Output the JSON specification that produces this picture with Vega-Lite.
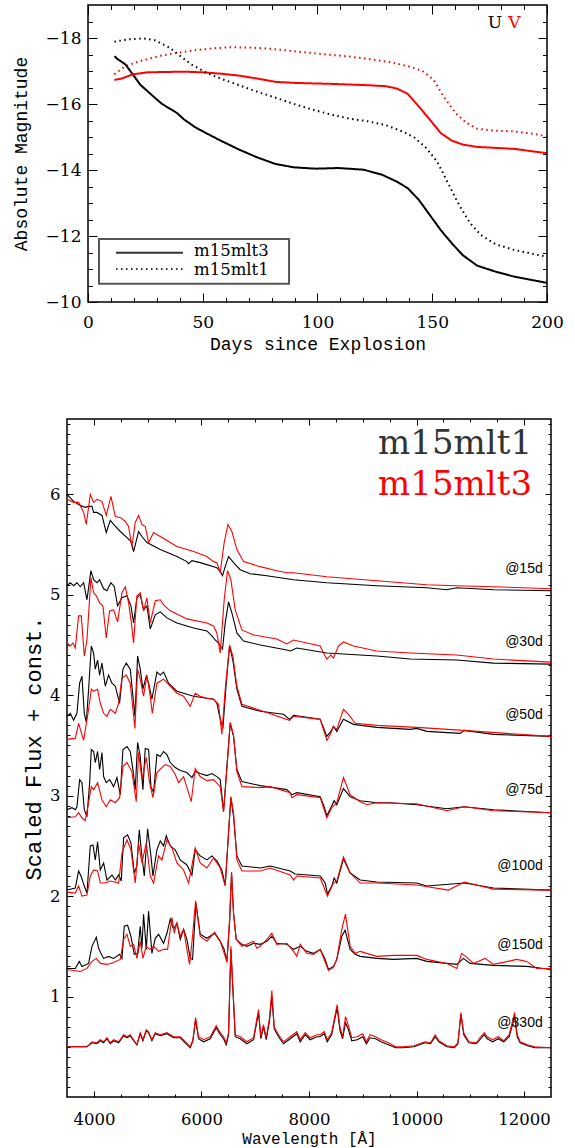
{
"$schema":"https://vega.github.io/schema/vega-lite/v6.json",
"autosize":{"type":"pad"},
"padding":{"left":12,"top":4,"right":0,"bottom":0},
"background":"white",
"spacing":64,
"config":{"view":{"stroke":null},"font":"DejaVu Serif","axis":{"domain":false,"grid":false,"labelFlush":false,"labelOverlap":false,"tickColor":"black","tickWidth":1,"labelColor":"black","titleColor":"black","labelFont":"DejaVu Serif","titleFont":"Liberation Mono","titleFontWeight":"normal"}},
"datasets":{
"lc":[
{"band":"U","model":"m15mlt3","day":11.5,"mag":-17.45},{"band":"U","model":"m15mlt3","day":13.1,"mag":-17.35},{"band":"U","model":"m15mlt3","day":16.3,"mag":-17.2},{"band":"U","model":"m15mlt3","day":19.5,"mag":-16.9},{"band":"U","model":"m15mlt3","day":22.7,"mag":-16.59},{"band":"U","model":"m15mlt3","day":25.9,"mag":-16.39},{"band":"U","model":"m15mlt3","day":29.1,"mag":-16.19},{"band":"U","model":"m15mlt3","day":32.3,"mag":-16.0},{"band":"U","model":"m15mlt3","day":38.7,"mag":-15.73},{"band":"U","model":"m15mlt3","day":41.9,"mag":-15.53},{"band":"U","model":"m15mlt3","day":46.6,"mag":-15.3},{"band":"U","model":"m15mlt3","day":51.4,"mag":-15.12},{"band":"U","model":"m15mlt3","day":57.8,"mag":-14.89},{"band":"U","model":"m15mlt3","day":65.8,"mag":-14.62},{"band":"U","model":"m15mlt3","day":73.8,"mag":-14.38},{"band":"U","model":"m15mlt3","day":81.8,"mag":-14.18},{"band":"U","model":"m15mlt3","day":89.8,"mag":-14.08},{"band":"U","model":"m15mlt3","day":99.4,"mag":-14.04},{"band":"U","model":"m15mlt3","day":109,"mag":-14.06},{"band":"U","model":"m15mlt3","day":120,"mag":-14.01},{"band":"U","model":"m15mlt3","day":128,"mag":-13.86},{"band":"U","model":"m15mlt3","day":134.5,"mag":-13.65},{"band":"U","model":"m15mlt3","day":139.3,"mag":-13.45},{"band":"U","model":"m15mlt3","day":144.1,"mag":-13.1},{"band":"U","model":"m15mlt3","day":148.9,"mag":-12.64},{"band":"U","model":"m15mlt3","day":153.7,"mag":-12.18},{"band":"U","model":"m15mlt3","day":158.5,"mag":-11.78},{"band":"U","model":"m15mlt3","day":163.3,"mag":-11.42},{"band":"U","model":"m15mlt3","day":169.6,"mag":-11.1},{"band":"U","model":"m15mlt3","day":177.6,"mag":-10.92},{"band":"U","model":"m15mlt3","day":185.6,"mag":-10.77},{"band":"U","model":"m15mlt3","day":200,"mag":-10.58},
{"band":"V","model":"m15mlt3","day":11.5,"mag":-16.73},{"band":"V","model":"m15mlt3","day":14.7,"mag":-16.77},{"band":"V","model":"m15mlt3","day":19.5,"mag":-16.9},{"band":"V","model":"m15mlt3","day":25.9,"mag":-16.96},{"band":"V","model":"m15mlt3","day":33.9,"mag":-16.97},{"band":"V","model":"m15mlt3","day":41.9,"mag":-16.98},{"band":"V","model":"m15mlt3","day":49.8,"mag":-16.96},{"band":"V","model":"m15mlt3","day":57.8,"mag":-16.92},{"band":"V","model":"m15mlt3","day":65.8,"mag":-16.86},{"band":"V","model":"m15mlt3","day":73.8,"mag":-16.77},{"band":"V","model":"m15mlt3","day":81.8,"mag":-16.67},{"band":"V","model":"m15mlt3","day":89.8,"mag":-16.64},{"band":"V","model":"m15mlt3","day":105.8,"mag":-16.61},{"band":"V","model":"m15mlt3","day":121.7,"mag":-16.57},{"band":"V","model":"m15mlt3","day":129.7,"mag":-16.54},{"band":"V","model":"m15mlt3","day":134.5,"mag":-16.47},{"band":"V","model":"m15mlt3","day":139.3,"mag":-16.31},{"band":"V","model":"m15mlt3","day":144.1,"mag":-15.93},{"band":"V","model":"m15mlt3","day":148.9,"mag":-15.53},{"band":"V","model":"m15mlt3","day":153.7,"mag":-15.12},{"band":"V","model":"m15mlt3","day":158.5,"mag":-14.89},{"band":"V","model":"m15mlt3","day":163.3,"mag":-14.77},{"band":"V","model":"m15mlt3","day":169.6,"mag":-14.7},{"band":"V","model":"m15mlt3","day":185.6,"mag":-14.64},{"band":"V","model":"m15mlt3","day":200,"mag":-14.51},
{"band":"U","model":"m15mlt1","day":11.5,"mag":-17.89},{"band":"U","model":"m15mlt1","day":17.9,"mag":-17.96},{"band":"U","model":"m15mlt1","day":24.3,"mag":-17.99},{"band":"U","model":"m15mlt1","day":29.1,"mag":-17.93},{"band":"U","model":"m15mlt1","day":35.5,"mag":-17.71},{"band":"U","model":"m15mlt1","day":40.3,"mag":-17.45},{"band":"U","model":"m15mlt1","day":45,"mag":-17.2},{"band":"U","model":"m15mlt1","day":51.4,"mag":-16.95},{"band":"U","model":"m15mlt1","day":57.8,"mag":-16.77},{"band":"U","model":"m15mlt1","day":65.8,"mag":-16.57},{"band":"U","model":"m15mlt1","day":73.8,"mag":-16.37},{"band":"U","model":"m15mlt1","day":81.8,"mag":-16.19},{"band":"U","model":"m15mlt1","day":89.8,"mag":-16.0},{"band":"U","model":"m15mlt1","day":97.8,"mag":-15.83},{"band":"U","model":"m15mlt1","day":105.8,"mag":-15.68},{"band":"U","model":"m15mlt1","day":113.7,"mag":-15.56},{"band":"U","model":"m15mlt1","day":121.7,"mag":-15.48},{"band":"U","model":"m15mlt1","day":129.7,"mag":-15.36},{"band":"U","model":"m15mlt1","day":137.7,"mag":-15.15},{"band":"U","model":"m15mlt1","day":142.5,"mag":-14.97},{"band":"U","model":"m15mlt1","day":147.3,"mag":-14.67},{"band":"U","model":"m15mlt1","day":152.1,"mag":-14.26},{"band":"U","model":"m15mlt1","day":156.9,"mag":-13.6},{"band":"U","model":"m15mlt1","day":161.7,"mag":-12.94},{"band":"U","model":"m15mlt1","day":166.5,"mag":-12.39},{"band":"U","model":"m15mlt1","day":171.2,"mag":-12.03},{"band":"U","model":"m15mlt1","day":177.6,"mag":-11.75},{"band":"U","model":"m15mlt1","day":185.6,"mag":-11.58},{"band":"U","model":"m15mlt1","day":200,"mag":-11.37},
{"band":"V","model":"m15mlt1","day":11.5,"mag":-16.9},{"band":"V","model":"m15mlt1","day":16.3,"mag":-17.15},{"band":"V","model":"m15mlt1","day":22.7,"mag":-17.3},{"band":"V","model":"m15mlt1","day":30.7,"mag":-17.45},{"band":"V","model":"m15mlt1","day":38.7,"mag":-17.55},{"band":"V","model":"m15mlt1","day":46.6,"mag":-17.63},{"band":"V","model":"m15mlt1","day":54.6,"mag":-17.69},{"band":"V","model":"m15mlt1","day":62.6,"mag":-17.72},{"band":"V","model":"m15mlt1","day":70.6,"mag":-17.71},{"band":"V","model":"m15mlt1","day":78.6,"mag":-17.68},{"band":"V","model":"m15mlt1","day":89.8,"mag":-17.6},{"band":"V","model":"m15mlt1","day":100.9,"mag":-17.52},{"band":"V","model":"m15mlt1","day":112.1,"mag":-17.45},{"band":"V","model":"m15mlt1","day":121.7,"mag":-17.37},{"band":"V","model":"m15mlt1","day":131.3,"mag":-17.27},{"band":"V","model":"m15mlt1","day":139.3,"mag":-17.15},{"band":"V","model":"m15mlt1","day":145.7,"mag":-17.0},{"band":"V","model":"m15mlt1","day":150.5,"mag":-16.74},{"band":"V","model":"m15mlt1","day":155.3,"mag":-16.19},{"band":"V","model":"m15mlt1","day":160.1,"mag":-15.73},{"band":"V","model":"m15mlt1","day":164.9,"mag":-15.43},{"band":"V","model":"m15mlt1","day":169.6,"mag":-15.25},{"band":"V","model":"m15mlt1","day":177.6,"mag":-15.19},{"band":"V","model":"m15mlt1","day":185.6,"mag":-15.17},{"band":"V","model":"m15mlt1","day":193.6,"mag":-15.1},{"band":"V","model":"m15mlt1","day":200,"mag":-15.02}
],
"spec":[
{"m":1,"d":15,"w":3499,"f":6.00},{"m":1,"d":15,"w":3623,"f":5.93},{"m":1,"d":15,"w":3747,"f":5.89},{"m":1,"d":15,"w":3840,"f":5.87},{"m":1,"d":15,"w":3902,"f":5.88},{"m":1,"d":15,"w":3964,"f":5.88},{"m":1,"d":15,"w":3995,"f":5.82},{"m":1,"d":15,"w":4057,"f":5.82},{"m":1,"d":15,"w":4150,"f":5.79},{"m":1,"d":15,"w":4230,"f":5.62},{"m":1,"d":15,"w":4305,"f":5.74},{"m":1,"d":15,"w":4367,"f":5.70},{"m":1,"d":15,"w":4491,"f":5.63},{"m":1,"d":15,"w":4615,"f":5.57},{"m":1,"d":15,"w":4689,"f":5.53},{"m":1,"d":15,"w":4738,"f":5.43},{"m":1,"d":15,"w":4831,"f":5.63},{"m":1,"d":15,"w":4893,"f":5.58},{"m":1,"d":15,"w":4986,"f":5.52},{"m":1,"d":15,"w":5234,"f":5.45},{"m":1,"d":15,"w":5544,"f":5.38},{"m":1,"d":15,"w":5730,"f":5.33},{"m":1,"d":15,"w":5761,"f":5.31},{"m":1,"d":15,"w":5823,"f":5.34},{"m":1,"d":15,"w":5977,"f":5.32},{"m":1,"d":15,"w":6287,"f":5.27},{"m":1,"d":15,"w":6349,"f":5.23},{"m":1,"d":15,"w":6392,"f":5.19},{"m":1,"d":15,"w":6442,"f":5.28},{"m":1,"d":15,"w":6504,"f":5.38},{"m":1,"d":15,"w":6597,"f":5.32},{"m":1,"d":15,"w":6721,"f":5.25},{"m":1,"d":15,"w":6907,"f":5.21},{"m":1,"d":15,"w":7216,"f":5.19},{"m":1,"d":15,"w":7712,"f":5.15},{"m":1,"d":15,"w":8332,"f":5.12},{"m":1,"d":15,"w":9261,"f":5.09},{"m":1,"d":15,"w":10190,"f":5.07},{"m":1,"d":15,"w":10562,"f":5.05},{"m":1,"d":15,"w":10747,"f":5.07},{"m":1,"d":15,"w":11429,"f":5.05},{"m":1,"d":15,"w":12500,"f":5.04},
{"m":1,"d":30,"w":3499,"f":5.09},{"m":1,"d":30,"w":3561,"f":5.12},{"m":1,"d":30,"w":3623,"f":5.09},{"m":1,"d":30,"w":3685,"f":5.12},{"m":1,"d":30,"w":3747,"f":5.08},{"m":1,"d":30,"w":3809,"f":5.12},{"m":1,"d":30,"w":3871,"f":4.95},{"m":1,"d":30,"w":3945,"f":5.24},{"m":1,"d":30,"w":3995,"f":5.15},{"m":1,"d":30,"w":4057,"f":5.12},{"m":1,"d":30,"w":4106,"f":5.15},{"m":1,"d":30,"w":4181,"f":5.06},{"m":1,"d":30,"w":4243,"f":5.04},{"m":1,"d":30,"w":4317,"f":5.12},{"m":1,"d":30,"w":4379,"f":5.08},{"m":1,"d":30,"w":4441,"f":4.89},{"m":1,"d":30,"w":4522,"f":4.97},{"m":1,"d":30,"w":4615,"f":4.99},{"m":1,"d":30,"w":4689,"f":4.89},{"m":1,"d":30,"w":4738,"f":4.72},{"m":1,"d":30,"w":4800,"f":4.97},{"m":1,"d":30,"w":4862,"f":5.00},{"m":1,"d":30,"w":4924,"f":4.85},{"m":1,"d":30,"w":4986,"f":4.89},{"m":1,"d":30,"w":5048,"f":4.66},{"m":1,"d":30,"w":5141,"f":4.80},{"m":1,"d":30,"w":5234,"f":4.83},{"m":1,"d":30,"w":5358,"f":4.77},{"m":1,"d":30,"w":5544,"f":4.72},{"m":1,"d":30,"w":5854,"f":4.67},{"m":1,"d":30,"w":6101,"f":4.64},{"m":1,"d":30,"w":6194,"f":4.59},{"m":1,"d":30,"w":6256,"f":4.55},{"m":1,"d":30,"w":6318,"f":4.52},{"m":1,"d":30,"w":6392,"f":4.46},{"m":1,"d":30,"w":6442,"f":4.72},{"m":1,"d":30,"w":6504,"f":4.93},{"m":1,"d":30,"w":6566,"f":4.82},{"m":1,"d":30,"w":6659,"f":4.62},{"m":1,"d":30,"w":6783,"f":4.54},{"m":1,"d":30,"w":7093,"f":4.50},{"m":1,"d":30,"w":7588,"f":4.45},{"m":1,"d":30,"w":7650,"f":4.44},{"m":1,"d":30,"w":7774,"f":4.47},{"m":1,"d":30,"w":8332,"f":4.42},{"m":1,"d":30,"w":9261,"f":4.39},{"m":1,"d":30,"w":9880,"f":4.36},{"m":1,"d":30,"w":10747,"f":4.35},{"m":1,"d":30,"w":11429,"f":4.32},{"m":1,"d":30,"w":12500,"f":4.31},
{"m":1,"d":50,"w":3499,"f":3.79},{"m":1,"d":50,"w":3561,"f":3.82},{"m":1,"d":50,"w":3623,"f":3.75},{"m":1,"d":50,"w":3685,"f":3.82},{"m":1,"d":50,"w":3735,"f":4.12},{"m":1,"d":50,"w":3778,"f":4.19},{"m":1,"d":50,"w":3822,"f":3.82},{"m":1,"d":50,"w":3859,"f":3.73},{"m":1,"d":50,"w":3902,"f":4.06},{"m":1,"d":50,"w":3952,"f":4.49},{"m":1,"d":50,"w":3995,"f":4.42},{"m":1,"d":50,"w":4026,"f":4.26},{"m":1,"d":50,"w":4069,"f":4.35},{"m":1,"d":50,"w":4106,"f":4.20},{"m":1,"d":50,"w":4150,"f":4.32},{"m":1,"d":50,"w":4212,"f":4.09},{"m":1,"d":50,"w":4274,"f":4.20},{"m":1,"d":50,"w":4336,"f":4.12},{"m":1,"d":50,"w":4398,"f":4.09},{"m":1,"d":50,"w":4478,"f":3.92},{"m":1,"d":50,"w":4540,"f":4.26},{"m":1,"d":50,"w":4602,"f":4.32},{"m":1,"d":50,"w":4676,"f":4.26},{"m":1,"d":50,"w":4726,"f":3.99},{"m":1,"d":50,"w":4763,"f":3.79},{"m":1,"d":50,"w":4813,"f":4.39},{"m":1,"d":50,"w":4862,"f":4.26},{"m":1,"d":50,"w":4912,"f":4.06},{"m":1,"d":50,"w":4974,"f":4.19},{"m":1,"d":50,"w":5017,"f":4.12},{"m":1,"d":50,"w":5079,"f":3.96},{"m":1,"d":50,"w":5172,"f":4.23},{"m":1,"d":50,"w":5234,"f":4.20},{"m":1,"d":50,"w":5296,"f":4.23},{"m":1,"d":50,"w":5389,"f":4.12},{"m":1,"d":50,"w":5544,"f":4.04},{"m":1,"d":50,"w":5730,"f":4.01},{"m":1,"d":50,"w":5854,"f":3.99},{"m":1,"d":50,"w":6101,"f":3.97},{"m":1,"d":50,"w":6225,"f":3.96},{"m":1,"d":50,"w":6287,"f":3.92},{"m":1,"d":50,"w":6337,"f":3.79},{"m":1,"d":50,"w":6399,"f":3.67},{"m":1,"d":50,"w":6461,"f":4.12},{"m":1,"d":50,"w":6523,"f":4.49},{"m":1,"d":50,"w":6584,"f":4.35},{"m":1,"d":50,"w":6659,"f":4.06},{"m":1,"d":50,"w":6752,"f":3.89},{"m":1,"d":50,"w":7093,"f":3.84},{"m":1,"d":50,"w":7526,"f":3.81},{"m":1,"d":50,"w":7638,"f":3.76},{"m":1,"d":50,"w":7712,"f":3.80},{"m":1,"d":50,"w":8208,"f":3.76},{"m":1,"d":50,"w":8282,"f":3.66},{"m":1,"d":50,"w":8332,"f":3.59},{"m":1,"d":50,"w":8406,"f":3.64},{"m":1,"d":50,"w":8455,"f":3.69},{"m":1,"d":50,"w":8517,"f":3.64},{"m":1,"d":50,"w":8641,"f":3.76},{"m":1,"d":50,"w":8827,"f":3.71},{"m":1,"d":50,"w":9261,"f":3.68},{"m":1,"d":50,"w":9880,"f":3.66},{"m":1,"d":50,"w":10004,"f":3.67},{"m":1,"d":50,"w":10190,"f":3.64},{"m":1,"d":50,"w":10809,"f":3.62},{"m":1,"d":50,"w":10890,"f":3.65},{"m":1,"d":50,"w":11429,"f":3.61},{"m":1,"d":50,"w":12500,"f":3.59},
{"m":1,"d":75,"w":3499,"f":2.86},{"m":1,"d":75,"w":3592,"f":2.88},{"m":1,"d":75,"w":3654,"f":2.86},{"m":1,"d":75,"w":3685,"f":2.89},{"m":1,"d":75,"w":3735,"f":3.16},{"m":1,"d":75,"w":3778,"f":3.13},{"m":1,"d":75,"w":3822,"f":2.86},{"m":1,"d":75,"w":3871,"f":2.79},{"m":1,"d":75,"w":3921,"f":3.13},{"m":1,"d":75,"w":3952,"f":3.46},{"m":1,"d":75,"w":3995,"f":3.44},{"m":1,"d":75,"w":4026,"f":3.33},{"m":1,"d":75,"w":4069,"f":3.44},{"m":1,"d":75,"w":4106,"f":3.26},{"m":1,"d":75,"w":4150,"f":3.43},{"m":1,"d":75,"w":4181,"f":3.19},{"m":1,"d":75,"w":4230,"f":3.13},{"m":1,"d":75,"w":4292,"f":3.16},{"m":1,"d":75,"w":4367,"f":3.09},{"m":1,"d":75,"w":4429,"f":3.18},{"m":1,"d":75,"w":4491,"f":3.01},{"m":1,"d":75,"w":4540,"f":3.46},{"m":1,"d":75,"w":4615,"f":3.49},{"m":1,"d":75,"w":4676,"f":3.44},{"m":1,"d":75,"w":4726,"f":3.26},{"m":1,"d":75,"w":4769,"f":3.06},{"m":1,"d":75,"w":4813,"f":3.53},{"m":1,"d":75,"w":4862,"f":3.39},{"m":1,"d":75,"w":4912,"f":3.06},{"m":1,"d":75,"w":4955,"f":3.47},{"m":1,"d":75,"w":5017,"f":3.46},{"m":1,"d":75,"w":5061,"f":3.09},{"m":1,"d":75,"w":5110,"f":3.03},{"m":1,"d":75,"w":5172,"f":3.41},{"m":1,"d":75,"w":5234,"f":3.39},{"m":1,"d":75,"w":5296,"f":3.44},{"m":1,"d":75,"w":5358,"f":3.41},{"m":1,"d":75,"w":5420,"f":3.33},{"m":1,"d":75,"w":5513,"f":3.28},{"m":1,"d":75,"w":5606,"f":3.25},{"m":1,"d":75,"w":5730,"f":3.23},{"m":1,"d":75,"w":5823,"f":3.18},{"m":1,"d":75,"w":5884,"f":3.24},{"m":1,"d":75,"w":5977,"f":3.22},{"m":1,"d":75,"w":6101,"f":3.20},{"m":1,"d":75,"w":6194,"f":3.22},{"m":1,"d":75,"w":6287,"f":3.19},{"m":1,"d":75,"w":6349,"f":3.16},{"m":1,"d":75,"w":6411,"f":2.84},{"m":1,"d":75,"w":6473,"f":3.29},{"m":1,"d":75,"w":6535,"f":3.72},{"m":1,"d":75,"w":6597,"f":3.59},{"m":1,"d":75,"w":6659,"f":3.26},{"m":1,"d":75,"w":6752,"f":3.14},{"m":1,"d":75,"w":7093,"f":3.10},{"m":1,"d":75,"w":7588,"f":3.06},{"m":1,"d":75,"w":7681,"f":3.01},{"m":1,"d":75,"w":7774,"f":3.03},{"m":1,"d":75,"w":8208,"f":2.99},{"m":1,"d":75,"w":8282,"f":2.89},{"m":1,"d":75,"w":8332,"f":2.80},{"m":1,"d":75,"w":8406,"f":2.88},{"m":1,"d":75,"w":8468,"f":2.95},{"m":1,"d":75,"w":8517,"f":2.91},{"m":1,"d":75,"w":8641,"f":3.07},{"m":1,"d":75,"w":8765,"f":2.99},{"m":1,"d":75,"w":8951,"f":2.95},{"m":1,"d":75,"w":9261,"f":2.93},{"m":1,"d":75,"w":9508,"f":2.93},{"m":1,"d":75,"w":10004,"f":2.91},{"m":1,"d":75,"w":10562,"f":2.87},{"m":1,"d":75,"w":10890,"f":2.89},{"m":1,"d":75,"w":11429,"f":2.86},{"m":1,"d":75,"w":12500,"f":2.83},
{"m":1,"d":100,"w":3499,"f":2.06},{"m":1,"d":100,"w":3654,"f":2.08},{"m":1,"d":100,"w":3716,"f":2.25},{"m":1,"d":100,"w":3760,"f":2.20},{"m":1,"d":100,"w":3822,"f":2.10},{"m":1,"d":100,"w":3871,"f":2.03},{"m":1,"d":100,"w":3933,"f":2.50},{"m":1,"d":100,"w":3983,"f":2.51},{"m":1,"d":100,"w":4026,"f":2.36},{"m":1,"d":100,"w":4069,"f":2.54},{"m":1,"d":100,"w":4119,"f":2.26},{"m":1,"d":100,"w":4181,"f":2.33},{"m":1,"d":100,"w":4243,"f":2.16},{"m":1,"d":100,"w":4336,"f":2.21},{"m":1,"d":100,"w":4398,"f":2.16},{"m":1,"d":100,"w":4460,"f":2.21},{"m":1,"d":100,"w":4509,"f":2.15},{"m":1,"d":100,"w":4553,"f":2.58},{"m":1,"d":100,"w":4627,"f":2.61},{"m":1,"d":100,"w":4689,"f":2.53},{"m":1,"d":100,"w":4751,"f":2.23},{"m":1,"d":100,"w":4800,"f":2.30},{"m":1,"d":100,"w":4844,"f":2.66},{"m":1,"d":100,"w":4893,"f":2.40},{"m":1,"d":100,"w":4937,"f":2.20},{"m":1,"d":100,"w":4999,"f":2.67},{"m":1,"d":100,"w":5061,"f":2.40},{"m":1,"d":100,"w":5098,"f":2.20},{"m":1,"d":100,"w":5172,"f":2.46},{"m":1,"d":100,"w":5234,"f":2.55},{"m":1,"d":100,"w":5296,"f":2.50},{"m":1,"d":100,"w":5346,"f":2.60},{"m":1,"d":100,"w":5420,"f":2.50},{"m":1,"d":100,"w":5513,"f":2.46},{"m":1,"d":100,"w":5606,"f":2.36},{"m":1,"d":100,"w":5730,"f":2.31},{"m":1,"d":100,"w":5823,"f":2.21},{"m":1,"d":100,"w":5884,"f":2.46},{"m":1,"d":100,"w":5977,"f":2.40},{"m":1,"d":100,"w":6101,"f":2.36},{"m":1,"d":100,"w":6194,"f":2.40},{"m":1,"d":100,"w":6287,"f":2.35},{"m":1,"d":100,"w":6380,"f":2.26},{"m":1,"d":100,"w":6442,"f":2.11},{"m":1,"d":100,"w":6504,"f":2.63},{"m":1,"d":100,"w":6547,"f":2.98},{"m":1,"d":100,"w":6597,"f":2.79},{"m":1,"d":100,"w":6659,"f":2.40},{"m":1,"d":100,"w":6752,"f":2.30},{"m":1,"d":100,"w":7093,"f":2.28},{"m":1,"d":100,"w":7278,"f":2.30},{"m":1,"d":100,"w":7650,"f":2.25},{"m":1,"d":100,"w":7743,"f":2.22},{"m":1,"d":100,"w":8208,"f":2.20},{"m":1,"d":100,"w":8301,"f":2.13},{"m":1,"d":100,"w":8344,"f":2.02},{"m":1,"d":100,"w":8424,"f":2.10},{"m":1,"d":100,"w":8468,"f":2.18},{"m":1,"d":100,"w":8517,"f":2.13},{"m":1,"d":100,"w":8641,"f":2.37},{"m":1,"d":100,"w":8765,"f":2.23},{"m":1,"d":100,"w":8951,"f":2.16},{"m":1,"d":100,"w":9261,"f":2.14},{"m":1,"d":100,"w":10004,"f":2.13},{"m":1,"d":100,"w":10190,"f":2.10},{"m":1,"d":100,"w":10890,"f":2.13},{"m":1,"d":100,"w":11429,"f":2.08},{"m":1,"d":100,"w":12500,"f":2.06},
{"m":1,"d":150,"w":3499,"f":1.28},{"m":1,"d":150,"w":3654,"f":1.28},{"m":1,"d":150,"w":3729,"f":1.35},{"m":1,"d":150,"w":3778,"f":1.30},{"m":1,"d":150,"w":3902,"f":1.33},{"m":1,"d":150,"w":3964,"f":1.50},{"m":1,"d":150,"w":4045,"f":1.59},{"m":1,"d":150,"w":4088,"f":1.48},{"m":1,"d":150,"w":4131,"f":1.43},{"m":1,"d":150,"w":4181,"f":1.38},{"m":1,"d":150,"w":4274,"f":1.40},{"m":1,"d":150,"w":4367,"f":1.38},{"m":1,"d":150,"w":4478,"f":1.42},{"m":1,"d":150,"w":4522,"f":1.38},{"m":1,"d":150,"w":4565,"f":1.70},{"m":1,"d":150,"w":4627,"f":1.71},{"m":1,"d":150,"w":4689,"f":1.60},{"m":1,"d":150,"w":4751,"f":1.42},{"m":1,"d":150,"w":4813,"f":1.43},{"m":1,"d":150,"w":4862,"f":1.70},{"m":1,"d":150,"w":4893,"f":1.48},{"m":1,"d":150,"w":4924,"f":1.82},{"m":1,"d":150,"w":4974,"f":1.47},{"m":1,"d":150,"w":5017,"f":1.85},{"m":1,"d":150,"w":5079,"f":1.43},{"m":1,"d":150,"w":5141,"f":1.58},{"m":1,"d":150,"w":5203,"f":1.62},{"m":1,"d":150,"w":5296,"f":1.53},{"m":1,"d":150,"w":5358,"f":1.63},{"m":1,"d":150,"w":5420,"f":1.77},{"m":1,"d":150,"w":5482,"f":1.67},{"m":1,"d":150,"w":5544,"f":1.73},{"m":1,"d":150,"w":5606,"f":1.57},{"m":1,"d":150,"w":5668,"f":1.67},{"m":1,"d":150,"w":5730,"f":1.57},{"m":1,"d":150,"w":5792,"f":1.38},{"m":1,"d":150,"w":5835,"f":1.37},{"m":1,"d":150,"w":5897,"f":1.93},{"m":1,"d":150,"w":5977,"f":1.62},{"m":1,"d":150,"w":6101,"f":1.58},{"m":1,"d":150,"w":6244,"f":1.63},{"m":1,"d":150,"w":6349,"f":1.55},{"m":1,"d":150,"w":6423,"f":1.47},{"m":1,"d":150,"w":6473,"f":1.35},{"m":1,"d":150,"w":6523,"f":1.73},{"m":1,"d":150,"w":6560,"f":2.23},{"m":1,"d":150,"w":6597,"f":1.83},{"m":1,"d":150,"w":6646,"f":1.57},{"m":1,"d":150,"w":6752,"f":1.52},{"m":1,"d":150,"w":6845,"f":1.50},{"m":1,"d":150,"w":6969,"f":1.53},{"m":1,"d":150,"w":7093,"f":1.52},{"m":1,"d":150,"w":7216,"f":1.55},{"m":1,"d":150,"w":7309,"f":1.60},{"m":1,"d":150,"w":7402,"f":1.53},{"m":1,"d":150,"w":7588,"f":1.52},{"m":1,"d":150,"w":7712,"f":1.47},{"m":1,"d":150,"w":7836,"f":1.50},{"m":1,"d":150,"w":7960,"f":1.45},{"m":1,"d":150,"w":8084,"f":1.43},{"m":1,"d":150,"w":8208,"f":1.47},{"m":1,"d":150,"w":8301,"f":1.37},{"m":1,"d":150,"w":8362,"f":1.27},{"m":1,"d":150,"w":8455,"f":1.30},{"m":1,"d":150,"w":8517,"f":1.37},{"m":1,"d":150,"w":8610,"f":1.60},{"m":1,"d":150,"w":8672,"f":1.66},{"m":1,"d":150,"w":8765,"f":1.47},{"m":1,"d":150,"w":8858,"f":1.42},{"m":1,"d":150,"w":8951,"f":1.40},{"m":1,"d":150,"w":9261,"f":1.38},{"m":1,"d":150,"w":9570,"f":1.37},{"m":1,"d":150,"w":10004,"f":1.38},{"m":1,"d":150,"w":10190,"f":1.35},{"m":1,"d":150,"w":10747,"f":1.32},{"m":1,"d":150,"w":10871,"f":1.38},{"m":1,"d":150,"w":10995,"f":1.33},{"m":1,"d":150,"w":11429,"f":1.31},{"m":1,"d":150,"w":12049,"f":1.30},{"m":1,"d":150,"w":12500,"f":1.27},
{"m":1,"d":330,"w":3499,"f":0.50},{"m":1,"d":330,"w":3747,"f":0.50},{"m":1,"d":330,"w":3871,"f":0.50},{"m":1,"d":330,"w":3964,"f":0.54},{"m":1,"d":330,"w":4057,"f":0.53},{"m":1,"d":330,"w":4119,"f":0.56},{"m":1,"d":330,"w":4181,"f":0.54},{"m":1,"d":330,"w":4243,"f":0.58},{"m":1,"d":330,"w":4305,"f":0.53},{"m":1,"d":330,"w":4367,"f":0.56},{"m":1,"d":330,"w":4460,"f":0.54},{"m":1,"d":330,"w":4553,"f":0.61},{"m":1,"d":330,"w":4615,"f":0.59},{"m":1,"d":330,"w":4676,"f":0.61},{"m":1,"d":330,"w":4738,"f":0.56},{"m":1,"d":330,"w":4800,"f":0.52},{"m":1,"d":330,"w":4862,"f":0.63},{"m":1,"d":330,"w":4912,"f":0.56},{"m":1,"d":330,"w":4974,"f":0.66},{"m":1,"d":330,"w":5017,"f":0.64},{"m":1,"d":330,"w":5079,"f":0.56},{"m":1,"d":330,"w":5141,"f":0.63},{"m":1,"d":330,"w":5234,"f":0.61},{"m":1,"d":330,"w":5358,"f":0.63},{"m":1,"d":330,"w":5482,"f":0.59},{"m":1,"d":330,"w":5606,"f":0.59},{"m":1,"d":330,"w":5699,"f":0.54},{"m":1,"d":330,"w":5792,"f":0.49},{"m":1,"d":330,"w":5841,"f":0.56},{"m":1,"d":330,"w":5891,"f":0.77},{"m":1,"d":330,"w":5946,"f":0.58},{"m":1,"d":330,"w":6039,"f":0.55},{"m":1,"d":330,"w":6163,"f":0.58},{"m":1,"d":330,"w":6275,"f":0.69},{"m":1,"d":330,"w":6337,"f":0.63},{"m":1,"d":330,"w":6411,"f":0.58},{"m":1,"d":330,"w":6461,"f":0.52},{"m":1,"d":330,"w":6504,"f":0.62},{"m":1,"d":330,"w":6547,"f":1.47},{"m":1,"d":330,"w":6584,"f":1.08},{"m":1,"d":330,"w":6628,"f":0.60},{"m":1,"d":330,"w":6721,"f":0.58},{"m":1,"d":330,"w":6845,"f":0.53},{"m":1,"d":330,"w":6969,"f":0.57},{"m":1,"d":330,"w":7061,"f":0.84},{"m":1,"d":330,"w":7105,"f":0.58},{"m":1,"d":330,"w":7154,"f":0.70},{"m":1,"d":330,"w":7204,"f":0.57},{"m":1,"d":330,"w":7266,"f":0.76},{"m":1,"d":330,"w":7309,"f":1.00},{"m":1,"d":330,"w":7353,"f":0.68},{"m":1,"d":330,"w":7433,"f":0.60},{"m":1,"d":330,"w":7526,"f":0.53},{"m":1,"d":330,"w":7650,"f":0.58},{"m":1,"d":330,"w":7774,"f":0.63},{"m":1,"d":330,"w":7836,"f":0.55},{"m":1,"d":330,"w":7929,"f":0.62},{"m":1,"d":330,"w":8022,"f":0.57},{"m":1,"d":330,"w":8146,"f":0.60},{"m":1,"d":330,"w":8203,"f":0.60},{"m":1,"d":330,"w":8285,"f":0.63},{"m":1,"d":330,"w":8339,"f":0.55},{"m":1,"d":330,"w":8421,"f":0.62},{"m":1,"d":330,"w":8523,"f":0.89},{"m":1,"d":330,"w":8577,"f":0.66},{"m":1,"d":330,"w":8625,"f":0.58},{"m":1,"d":330,"w":8679,"f":0.74},{"m":1,"d":330,"w":8727,"f":0.68},{"m":1,"d":330,"w":8795,"f":0.56},{"m":1,"d":330,"w":8897,"f":0.57},{"m":1,"d":330,"w":9000,"f":0.60},{"m":1,"d":330,"w":9067,"f":0.53},{"m":1,"d":330,"w":9135,"f":0.59},{"m":1,"d":330,"w":9238,"f":0.58},{"m":1,"d":330,"w":9340,"f":0.55},{"m":1,"d":330,"w":9476,"f":0.52},{"m":1,"d":330,"w":9612,"f":0.49},{"m":1,"d":330,"w":9748,"f":0.49},{"m":1,"d":330,"w":9952,"f":0.50},{"m":1,"d":330,"w":10157,"f":0.54},{"m":1,"d":330,"w":10259,"f":0.53},{"m":1,"d":330,"w":10347,"f":0.60},{"m":1,"d":330,"w":10415,"f":0.55},{"m":1,"d":330,"w":10565,"f":0.50},{"m":1,"d":330,"w":10701,"f":0.49},{"m":1,"d":330,"w":10769,"f":0.53},{"m":1,"d":330,"w":10824,"f":0.82},{"m":1,"d":330,"w":10878,"f":0.62},{"m":1,"d":330,"w":10973,"f":0.54},{"m":1,"d":330,"w":11110,"f":0.53},{"m":1,"d":330,"w":11178,"f":0.57},{"m":1,"d":330,"w":11259,"f":0.62},{"m":1,"d":330,"w":11314,"f":0.58},{"m":1,"d":330,"w":11416,"f":0.55},{"m":1,"d":330,"w":11518,"f":0.58},{"m":1,"d":330,"w":11620,"f":0.55},{"m":1,"d":330,"w":11722,"f":0.60},{"m":1,"d":330,"w":11824,"f":0.80},{"m":1,"d":330,"w":11872,"f":0.60},{"m":1,"d":330,"w":11926,"f":0.54},{"m":1,"d":330,"w":12062,"f":0.51},{"m":1,"d":330,"w":12198,"f":0.49},{"m":1,"d":330,"w":12500,"f":0.49},
{"m":3,"d":15,"w":3499,"f":5.95},{"m":3,"d":15,"w":3623,"f":5.92},{"m":3,"d":15,"w":3716,"f":5.92},{"m":3,"d":15,"w":3809,"f":5.82},{"m":3,"d":15,"w":3859,"f":5.70},{"m":3,"d":15,"w":3933,"f":6.00},{"m":3,"d":15,"w":3995,"f":5.92},{"m":3,"d":15,"w":4057,"f":5.95},{"m":3,"d":15,"w":4150,"f":5.93},{"m":3,"d":15,"w":4230,"f":5.79},{"m":3,"d":15,"w":4317,"f":5.98},{"m":3,"d":15,"w":4398,"f":5.78},{"m":3,"d":15,"w":4491,"f":5.77},{"m":3,"d":15,"w":4584,"f":5.73},{"m":3,"d":15,"w":4645,"f":5.68},{"m":3,"d":15,"w":4707,"f":5.48},{"m":3,"d":15,"w":4769,"f":5.72},{"m":3,"d":15,"w":4831,"f":5.79},{"m":3,"d":15,"w":4893,"f":5.70},{"m":3,"d":15,"w":4955,"f":5.68},{"m":3,"d":15,"w":5017,"f":5.52},{"m":3,"d":15,"w":5110,"f":5.62},{"m":3,"d":15,"w":5234,"f":5.58},{"m":3,"d":15,"w":5544,"f":5.48},{"m":3,"d":15,"w":5854,"f":5.43},{"m":3,"d":15,"w":6101,"f":5.38},{"m":3,"d":15,"w":6225,"f":5.33},{"m":3,"d":15,"w":6287,"f":5.32},{"m":3,"d":15,"w":6349,"f":5.22},{"m":3,"d":15,"w":6423,"f":5.52},{"m":3,"d":15,"w":6492,"f":5.70},{"m":3,"d":15,"w":6566,"f":5.63},{"m":3,"d":15,"w":6659,"f":5.45},{"m":3,"d":15,"w":6783,"f":5.33},{"m":3,"d":15,"w":7093,"f":5.28},{"m":3,"d":15,"w":7402,"f":5.24},{"m":3,"d":15,"w":7588,"f":5.22},{"m":3,"d":15,"w":7712,"f":5.22},{"m":3,"d":15,"w":8332,"f":5.18},{"m":3,"d":15,"w":9261,"f":5.14},{"m":3,"d":15,"w":10190,"f":5.10},{"m":3,"d":15,"w":10747,"f":5.09},{"m":3,"d":15,"w":11429,"f":5.08},{"m":3,"d":15,"w":12500,"f":5.06},
{"m":3,"d":30,"w":3499,"f":4.52},{"m":3,"d":30,"w":3561,"f":4.49},{"m":3,"d":30,"w":3611,"f":4.52},{"m":3,"d":30,"w":3654,"f":4.47},{"m":3,"d":30,"w":3716,"f":4.79},{"m":3,"d":30,"w":3766,"f":4.79},{"m":3,"d":30,"w":3822,"f":4.39},{"m":3,"d":30,"w":3871,"f":4.55},{"m":3,"d":30,"w":3945,"f":5.17},{"m":3,"d":30,"w":3995,"f":5.02},{"m":3,"d":30,"w":4045,"f":4.99},{"m":3,"d":30,"w":4106,"f":4.92},{"m":3,"d":30,"w":4168,"f":4.89},{"m":3,"d":30,"w":4230,"f":4.57},{"m":3,"d":30,"w":4292,"f":4.84},{"m":3,"d":30,"w":4367,"f":4.85},{"m":3,"d":30,"w":4441,"f":4.73},{"m":3,"d":30,"w":4522,"f":5.02},{"m":3,"d":30,"w":4584,"f":5.08},{"m":3,"d":30,"w":4645,"f":4.92},{"m":3,"d":30,"w":4695,"f":4.73},{"m":3,"d":30,"w":4738,"f":4.52},{"m":3,"d":30,"w":4800,"f":4.99},{"m":3,"d":30,"w":4862,"f":5.02},{"m":3,"d":30,"w":4924,"f":4.84},{"m":3,"d":30,"w":4986,"f":4.97},{"m":3,"d":30,"w":5048,"f":4.72},{"m":3,"d":30,"w":5141,"f":4.94},{"m":3,"d":30,"w":5234,"f":4.95},{"m":3,"d":30,"w":5296,"f":4.90},{"m":3,"d":30,"w":5420,"f":4.84},{"m":3,"d":30,"w":5730,"f":4.76},{"m":3,"d":30,"w":6101,"f":4.72},{"m":3,"d":30,"w":6225,"f":4.69},{"m":3,"d":30,"w":6287,"f":4.62},{"m":3,"d":30,"w":6349,"f":4.42},{"m":3,"d":30,"w":6423,"f":4.95},{"m":3,"d":30,"w":6485,"f":5.24},{"m":3,"d":30,"w":6547,"f":5.15},{"m":3,"d":30,"w":6628,"f":4.85},{"m":3,"d":30,"w":6752,"f":4.65},{"m":3,"d":30,"w":6969,"f":4.60},{"m":3,"d":30,"w":7402,"f":4.56},{"m":3,"d":30,"w":7588,"f":4.51},{"m":3,"d":30,"w":7712,"f":4.55},{"m":3,"d":30,"w":8208,"f":4.49},{"m":3,"d":30,"w":8270,"f":4.42},{"m":3,"d":30,"w":8332,"f":4.36},{"m":3,"d":30,"w":8406,"f":4.40},{"m":3,"d":30,"w":8455,"f":4.37},{"m":3,"d":30,"w":8548,"f":4.49},{"m":3,"d":30,"w":8641,"f":4.53},{"m":3,"d":30,"w":8827,"f":4.49},{"m":3,"d":30,"w":9261,"f":4.44},{"m":3,"d":30,"w":9880,"f":4.42},{"m":3,"d":30,"w":10747,"f":4.40},{"m":3,"d":30,"w":11429,"f":4.36},{"m":3,"d":30,"w":12500,"f":4.33},
{"m":3,"d":50,"w":3499,"f":3.56},{"m":3,"d":50,"w":3654,"f":3.57},{"m":3,"d":50,"w":3716,"f":3.72},{"m":3,"d":50,"w":3809,"f":3.55},{"m":3,"d":50,"w":3902,"f":3.86},{"m":3,"d":50,"w":3952,"f":4.06},{"m":3,"d":50,"w":3995,"f":4.04},{"m":3,"d":50,"w":4069,"f":4.06},{"m":3,"d":50,"w":4119,"f":3.92},{"m":3,"d":50,"w":4181,"f":3.82},{"m":3,"d":50,"w":4243,"f":3.79},{"m":3,"d":50,"w":4305,"f":3.86},{"m":3,"d":50,"w":4398,"f":3.82},{"m":3,"d":50,"w":4460,"f":3.92},{"m":3,"d":50,"w":4522,"f":4.17},{"m":3,"d":50,"w":4602,"f":4.20},{"m":3,"d":50,"w":4676,"f":4.12},{"m":3,"d":50,"w":4763,"f":3.67},{"m":3,"d":50,"w":4813,"f":4.26},{"m":3,"d":50,"w":4862,"f":4.16},{"m":3,"d":50,"w":4924,"f":3.99},{"m":3,"d":50,"w":4986,"f":4.20},{"m":3,"d":50,"w":5048,"f":3.99},{"m":3,"d":50,"w":5086,"f":3.82},{"m":3,"d":50,"w":5172,"f":4.12},{"m":3,"d":50,"w":5296,"f":4.16},{"m":3,"d":50,"w":5420,"f":4.09},{"m":3,"d":50,"w":5544,"f":4.02},{"m":3,"d":50,"w":5668,"f":3.99},{"m":3,"d":50,"w":5792,"f":3.89},{"m":3,"d":50,"w":5884,"f":4.02},{"m":3,"d":50,"w":5977,"f":3.99},{"m":3,"d":50,"w":6101,"f":3.97},{"m":3,"d":50,"w":6225,"f":3.96},{"m":3,"d":50,"w":6318,"f":3.91},{"m":3,"d":50,"w":6380,"f":3.61},{"m":3,"d":50,"w":6442,"f":4.06},{"m":3,"d":50,"w":6523,"f":4.50},{"m":3,"d":50,"w":6584,"f":4.39},{"m":3,"d":50,"w":6659,"f":4.09},{"m":3,"d":50,"w":6752,"f":3.91},{"m":3,"d":50,"w":7093,"f":3.85},{"m":3,"d":50,"w":7638,"f":3.75},{"m":3,"d":50,"w":7712,"f":3.79},{"m":3,"d":50,"w":8208,"f":3.76},{"m":3,"d":50,"w":8332,"f":3.55},{"m":3,"d":50,"w":8406,"f":3.62},{"m":3,"d":50,"w":8455,"f":3.69},{"m":3,"d":50,"w":8517,"f":3.66},{"m":3,"d":50,"w":8641,"f":3.86},{"m":3,"d":50,"w":8734,"f":3.81},{"m":3,"d":50,"w":8858,"f":3.72},{"m":3,"d":50,"w":9261,"f":3.70},{"m":3,"d":50,"w":10004,"f":3.68},{"m":3,"d":50,"w":10871,"f":3.65},{"m":3,"d":50,"w":12500,"f":3.59},
{"m":3,"d":75,"w":3499,"f":2.78},{"m":3,"d":75,"w":3654,"f":2.79},{"m":3,"d":75,"w":3716,"f":2.83},{"m":3,"d":75,"w":3778,"f":2.78},{"m":3,"d":75,"w":3840,"f":2.75},{"m":3,"d":75,"w":3902,"f":2.93},{"m":3,"d":75,"w":3952,"f":3.09},{"m":3,"d":75,"w":3995,"f":3.06},{"m":3,"d":75,"w":4069,"f":3.13},{"m":3,"d":75,"w":4150,"f":2.96},{"m":3,"d":75,"w":4230,"f":2.89},{"m":3,"d":75,"w":4305,"f":2.96},{"m":3,"d":75,"w":4398,"f":2.93},{"m":3,"d":75,"w":4478,"f":2.98},{"m":3,"d":75,"w":4540,"f":3.29},{"m":3,"d":75,"w":4615,"f":3.33},{"m":3,"d":75,"w":4707,"f":3.24},{"m":3,"d":75,"w":4788,"f":2.94},{"m":3,"d":75,"w":4831,"f":3.43},{"m":3,"d":75,"w":4893,"f":3.16},{"m":3,"d":75,"w":4974,"f":3.38},{"m":3,"d":75,"w":5036,"f":3.13},{"m":3,"d":75,"w":5098,"f":2.98},{"m":3,"d":75,"w":5172,"f":3.23},{"m":3,"d":75,"w":5265,"f":3.28},{"m":3,"d":75,"w":5327,"f":3.31},{"m":3,"d":75,"w":5420,"f":3.29},{"m":3,"d":75,"w":5513,"f":3.21},{"m":3,"d":75,"w":5575,"f":3.13},{"m":3,"d":75,"w":5668,"f":3.19},{"m":3,"d":75,"w":5810,"f":2.94},{"m":3,"d":75,"w":5884,"f":3.27},{"m":3,"d":75,"w":5977,"f":3.19},{"m":3,"d":75,"w":6101,"f":3.15},{"m":3,"d":75,"w":6225,"f":3.16},{"m":3,"d":75,"w":6349,"f":3.09},{"m":3,"d":75,"w":6411,"f":2.84},{"m":3,"d":75,"w":6473,"f":3.26},{"m":3,"d":75,"w":6535,"f":3.73},{"m":3,"d":75,"w":6597,"f":3.60},{"m":3,"d":75,"w":6659,"f":3.24},{"m":3,"d":75,"w":6752,"f":3.09},{"m":3,"d":75,"w":7093,"f":3.08},{"m":3,"d":75,"w":7278,"f":3.09},{"m":3,"d":75,"w":7650,"f":3.03},{"m":3,"d":75,"w":7681,"f":2.98},{"m":3,"d":75,"w":7774,"f":3.01},{"m":3,"d":75,"w":8208,"f":2.98},{"m":3,"d":75,"w":8332,"f":2.78},{"m":3,"d":75,"w":8424,"f":2.88},{"m":3,"d":75,"w":8517,"f":2.93},{"m":3,"d":75,"w":8641,"f":3.18},{"m":3,"d":75,"w":8765,"f":3.01},{"m":3,"d":75,"w":8951,"f":2.94},{"m":3,"d":75,"w":9075,"f":2.91},{"m":3,"d":75,"w":9261,"f":2.93},{"m":3,"d":75,"w":10004,"f":2.92},{"m":3,"d":75,"w":10562,"f":2.85},{"m":3,"d":75,"w":10890,"f":2.89},{"m":3,"d":75,"w":11429,"f":2.85},{"m":3,"d":75,"w":12500,"f":2.83},
{"m":3,"d":100,"w":3499,"f":2.04},{"m":3,"d":100,"w":3654,"f":2.03},{"m":3,"d":100,"w":3716,"f":2.10},{"m":3,"d":100,"w":3778,"f":2.00},{"m":3,"d":100,"w":3871,"f":2.01},{"m":3,"d":100,"w":3933,"f":2.20},{"m":3,"d":100,"w":3995,"f":2.26},{"m":3,"d":100,"w":4069,"f":2.25},{"m":3,"d":100,"w":4119,"f":2.13},{"m":3,"d":100,"w":4212,"f":2.13},{"m":3,"d":100,"w":4305,"f":2.15},{"m":3,"d":100,"w":4460,"f":2.13},{"m":3,"d":100,"w":4522,"f":2.43},{"m":3,"d":100,"w":4615,"f":2.56},{"m":3,"d":100,"w":4689,"f":2.46},{"m":3,"d":100,"w":4769,"f":2.13},{"m":3,"d":100,"w":4831,"f":2.53},{"m":3,"d":100,"w":4893,"f":2.33},{"m":3,"d":100,"w":4974,"f":2.53},{"m":3,"d":100,"w":5048,"f":2.20},{"m":3,"d":100,"w":5110,"f":2.13},{"m":3,"d":100,"w":5203,"f":2.40},{"m":3,"d":100,"w":5265,"f":2.36},{"m":3,"d":100,"w":5358,"f":2.56},{"m":3,"d":100,"w":5451,"f":2.48},{"m":3,"d":100,"w":5544,"f":2.33},{"m":3,"d":100,"w":5668,"f":2.26},{"m":3,"d":100,"w":5761,"f":2.13},{"m":3,"d":100,"w":5884,"f":2.48},{"m":3,"d":100,"w":5977,"f":2.33},{"m":3,"d":100,"w":6101,"f":2.28},{"m":3,"d":100,"w":6225,"f":2.38},{"m":3,"d":100,"w":6349,"f":2.28},{"m":3,"d":100,"w":6442,"f":2.10},{"m":3,"d":100,"w":6504,"f":2.63},{"m":3,"d":100,"w":6547,"f":2.99},{"m":3,"d":100,"w":6597,"f":2.83},{"m":3,"d":100,"w":6659,"f":2.36},{"m":3,"d":100,"w":6752,"f":2.25},{"m":3,"d":100,"w":7093,"f":2.25},{"m":3,"d":100,"w":7278,"f":2.28},{"m":3,"d":100,"w":7650,"f":2.21},{"m":3,"d":100,"w":7712,"f":2.16},{"m":3,"d":100,"w":7774,"f":2.20},{"m":3,"d":100,"w":8208,"f":2.18},{"m":3,"d":100,"w":8344,"f":2.00},{"m":3,"d":100,"w":8455,"f":2.13},{"m":3,"d":100,"w":8517,"f":2.15},{"m":3,"d":100,"w":8641,"f":2.39},{"m":3,"d":100,"w":8765,"f":2.23},{"m":3,"d":100,"w":8951,"f":2.13},{"m":3,"d":100,"w":9261,"f":2.13},{"m":3,"d":100,"w":10004,"f":2.11},{"m":3,"d":100,"w":10593,"f":2.06},{"m":3,"d":100,"w":10890,"f":2.14},{"m":3,"d":100,"w":11429,"f":2.07},{"m":3,"d":100,"w":12500,"f":2.06},
{"m":3,"d":150,"w":3499,"f":1.27},{"m":3,"d":150,"w":3747,"f":1.25},{"m":3,"d":150,"w":3871,"f":1.28},{"m":3,"d":150,"w":3964,"f":1.35},{"m":3,"d":150,"w":4045,"f":1.38},{"m":3,"d":150,"w":4119,"f":1.33},{"m":3,"d":150,"w":4243,"f":1.32},{"m":3,"d":150,"w":4367,"f":1.34},{"m":3,"d":150,"w":4491,"f":1.37},{"m":3,"d":150,"w":4553,"f":1.57},{"m":3,"d":150,"w":4615,"f":1.62},{"m":3,"d":150,"w":4676,"f":1.50},{"m":3,"d":150,"w":4738,"f":1.52},{"m":3,"d":150,"w":4800,"f":1.38},{"m":3,"d":150,"w":4862,"f":1.55},{"m":3,"d":150,"w":4912,"f":1.38},{"m":3,"d":150,"w":4974,"f":1.50},{"m":3,"d":150,"w":5036,"f":1.47},{"m":3,"d":150,"w":5110,"f":1.50},{"m":3,"d":150,"w":5203,"f":1.45},{"m":3,"d":150,"w":5296,"f":1.47},{"m":3,"d":150,"w":5370,"f":1.47},{"m":3,"d":150,"w":5451,"f":1.79},{"m":3,"d":150,"w":5494,"f":1.63},{"m":3,"d":150,"w":5544,"f":1.73},{"m":3,"d":150,"w":5606,"f":1.60},{"m":3,"d":150,"w":5668,"f":1.67},{"m":3,"d":150,"w":5730,"f":1.47},{"m":3,"d":150,"w":5779,"f":1.32},{"m":3,"d":150,"w":5829,"f":1.57},{"m":3,"d":150,"w":5891,"f":1.95},{"m":3,"d":150,"w":5977,"f":1.60},{"m":3,"d":150,"w":6101,"f":1.55},{"m":3,"d":150,"w":6244,"f":1.64},{"m":3,"d":150,"w":6349,"f":1.55},{"m":3,"d":150,"w":6442,"f":1.40},{"m":3,"d":150,"w":6473,"f":1.34},{"m":3,"d":150,"w":6523,"f":1.77},{"m":3,"d":150,"w":6560,"f":2.24},{"m":3,"d":150,"w":6597,"f":1.83},{"m":3,"d":150,"w":6646,"f":1.57},{"m":3,"d":150,"w":6752,"f":1.50},{"m":3,"d":150,"w":6845,"f":1.52},{"m":3,"d":150,"w":6969,"f":1.55},{"m":3,"d":150,"w":7030,"f":1.48},{"m":3,"d":150,"w":7093,"f":1.50},{"m":3,"d":150,"w":7216,"f":1.57},{"m":3,"d":150,"w":7309,"f":1.63},{"m":3,"d":150,"w":7402,"f":1.52},{"m":3,"d":150,"w":7588,"f":1.53},{"m":3,"d":150,"w":7712,"f":1.45},{"m":3,"d":150,"w":7774,"f":1.40},{"m":3,"d":150,"w":7836,"f":1.52},{"m":3,"d":150,"w":7960,"f":1.43},{"m":3,"d":150,"w":8084,"f":1.42},{"m":3,"d":150,"w":8208,"f":1.47},{"m":3,"d":150,"w":8362,"f":1.26},{"m":3,"d":150,"w":8455,"f":1.29},{"m":3,"d":150,"w":8517,"f":1.37},{"m":3,"d":150,"w":8610,"f":1.67},{"m":3,"d":150,"w":8678,"f":1.82},{"m":3,"d":150,"w":8765,"f":1.50},{"m":3,"d":150,"w":8858,"f":1.43},{"m":3,"d":150,"w":8951,"f":1.45},{"m":3,"d":150,"w":9261,"f":1.40},{"m":3,"d":150,"w":9570,"f":1.41},{"m":3,"d":150,"w":10004,"f":1.41},{"m":3,"d":150,"w":10190,"f":1.37},{"m":3,"d":150,"w":10562,"f":1.33},{"m":3,"d":150,"w":10747,"f":1.28},{"m":3,"d":150,"w":10840,"f":1.43},{"m":3,"d":150,"w":10933,"f":1.39},{"m":3,"d":150,"w":11057,"f":1.33},{"m":3,"d":150,"w":11274,"f":1.38},{"m":3,"d":150,"w":11429,"f":1.32},{"m":3,"d":150,"w":11615,"f":1.34},{"m":3,"d":150,"w":11863,"f":1.37},{"m":3,"d":150,"w":12049,"f":1.35},{"m":3,"d":150,"w":12234,"f":1.28},{"m":3,"d":150,"w":12500,"f":1.28},
{"m":3,"d":330,"w":3499,"f":0.50},{"m":3,"d":330,"w":3747,"f":0.50},{"m":3,"d":330,"w":3871,"f":0.50},{"m":3,"d":330,"w":3964,"f":0.55},{"m":3,"d":330,"w":4057,"f":0.54},{"m":3,"d":330,"w":4119,"f":0.57},{"m":3,"d":330,"w":4181,"f":0.55},{"m":3,"d":330,"w":4243,"f":0.59},{"m":3,"d":330,"w":4305,"f":0.54},{"m":3,"d":330,"w":4367,"f":0.57},{"m":3,"d":330,"w":4460,"f":0.55},{"m":3,"d":330,"w":4553,"f":0.62},{"m":3,"d":330,"w":4615,"f":0.60},{"m":3,"d":330,"w":4676,"f":0.62},{"m":3,"d":330,"w":4738,"f":0.57},{"m":3,"d":330,"w":4800,"f":0.52},{"m":3,"d":330,"w":4862,"f":0.64},{"m":3,"d":330,"w":4912,"f":0.57},{"m":3,"d":330,"w":4974,"f":0.67},{"m":3,"d":330,"w":5017,"f":0.65},{"m":3,"d":330,"w":5079,"f":0.57},{"m":3,"d":330,"w":5141,"f":0.64},{"m":3,"d":330,"w":5234,"f":0.62},{"m":3,"d":330,"w":5358,"f":0.64},{"m":3,"d":330,"w":5482,"f":0.60},{"m":3,"d":330,"w":5606,"f":0.60},{"m":3,"d":330,"w":5699,"f":0.55},{"m":3,"d":330,"w":5792,"f":0.50},{"m":3,"d":330,"w":5841,"f":0.57},{"m":3,"d":330,"w":5891,"f":0.79},{"m":3,"d":330,"w":5946,"f":0.60},{"m":3,"d":330,"w":6039,"f":0.57},{"m":3,"d":330,"w":6163,"f":0.60},{"m":3,"d":330,"w":6275,"f":0.71},{"m":3,"d":330,"w":6337,"f":0.65},{"m":3,"d":330,"w":6411,"f":0.60},{"m":3,"d":330,"w":6461,"f":0.54},{"m":3,"d":330,"w":6504,"f":0.64},{"m":3,"d":330,"w":6547,"f":1.50},{"m":3,"d":330,"w":6584,"f":1.10},{"m":3,"d":330,"w":6628,"f":0.62},{"m":3,"d":330,"w":6721,"f":0.60},{"m":3,"d":330,"w":6845,"f":0.55},{"m":3,"d":330,"w":6969,"f":0.59},{"m":3,"d":330,"w":7061,"f":0.87},{"m":3,"d":330,"w":7105,"f":0.60},{"m":3,"d":330,"w":7154,"f":0.72},{"m":3,"d":330,"w":7204,"f":0.59},{"m":3,"d":330,"w":7266,"f":0.79},{"m":3,"d":330,"w":7309,"f":1.06},{"m":3,"d":330,"w":7353,"f":0.70},{"m":3,"d":330,"w":7433,"f":0.62},{"m":3,"d":330,"w":7526,"f":0.55},{"m":3,"d":330,"w":7650,"f":0.60},{"m":3,"d":330,"w":7774,"f":0.65},{"m":3,"d":330,"w":7836,"f":0.57},{"m":3,"d":330,"w":7929,"f":0.64},{"m":3,"d":330,"w":8022,"f":0.59},{"m":3,"d":330,"w":8146,"f":0.62},{"m":3,"d":330,"w":8203,"f":0.62},{"m":3,"d":330,"w":8285,"f":0.65},{"m":3,"d":330,"w":8339,"f":0.57},{"m":3,"d":330,"w":8421,"f":0.64},{"m":3,"d":330,"w":8523,"f":0.92},{"m":3,"d":330,"w":8577,"f":0.69},{"m":3,"d":330,"w":8625,"f":0.60},{"m":3,"d":330,"w":8679,"f":0.80},{"m":3,"d":330,"w":8727,"f":0.72},{"m":3,"d":330,"w":8795,"f":0.59},{"m":3,"d":330,"w":8897,"f":0.60},{"m":3,"d":330,"w":9000,"f":0.63},{"m":3,"d":330,"w":9067,"f":0.55},{"m":3,"d":330,"w":9135,"f":0.62},{"m":3,"d":330,"w":9238,"f":0.60},{"m":3,"d":330,"w":9340,"f":0.57},{"m":3,"d":330,"w":9476,"f":0.54},{"m":3,"d":330,"w":9612,"f":0.50},{"m":3,"d":330,"w":9748,"f":0.50},{"m":3,"d":330,"w":9952,"f":0.51},{"m":3,"d":330,"w":10157,"f":0.55},{"m":3,"d":330,"w":10259,"f":0.54},{"m":3,"d":330,"w":10347,"f":0.62},{"m":3,"d":330,"w":10415,"f":0.56},{"m":3,"d":330,"w":10565,"f":0.51},{"m":3,"d":330,"w":10701,"f":0.50},{"m":3,"d":330,"w":10769,"f":0.54},{"m":3,"d":330,"w":10824,"f":0.84},{"m":3,"d":330,"w":10878,"f":0.64},{"m":3,"d":330,"w":10973,"f":0.55},{"m":3,"d":330,"w":11110,"f":0.54},{"m":3,"d":330,"w":11178,"f":0.59},{"m":3,"d":330,"w":11259,"f":0.64},{"m":3,"d":330,"w":11314,"f":0.60},{"m":3,"d":330,"w":11416,"f":0.57},{"m":3,"d":330,"w":11518,"f":0.60},{"m":3,"d":330,"w":11620,"f":0.56},{"m":3,"d":330,"w":11722,"f":0.62},{"m":3,"d":330,"w":11824,"f":0.84},{"m":3,"d":330,"w":11872,"f":0.62},{"m":3,"d":330,"w":11926,"f":0.55},{"m":3,"d":330,"w":12062,"f":0.52},{"m":3,"d":330,"w":12198,"f":0.50},{"m":3,"d":330,"w":12500,"f":0.49}
],
"labels":[
{"lab":"@15d","w":12346,"f":5.26},{"lab":"@30d","w":12346,"f":4.53},{"lab":"@50d","w":12346,"f":3.80},{"lab":"@75d","w":12346,"f":3.06},{"lab":"@100d","w":12346,"f":2.30},{"lab":"@150d","w":12346,"f":1.51},{"lab":"@330d","w":12346,"f":0.74}
]
},
"vconcat":[
{"width":480,"height":297,
"layer":[
{"data":{"name":"lc"},"mark":{"type":"line","strokeWidth":2},
"encoding":{
"x":{"field":"day","type":"quantitative","scale":{"domain":[-9.15,200],"nice":false,"zero":false},"axis":{"orient":"bottom","values":[0,50,100,150,200],"tickSize":-9,"labelPadding":21,"labelFontSize":17,"title":"Days since Explosion","titleFontSize":18,"titleX":250.5,"titleY":42,"titleBaseline":"middle","titleAlign":"center"}},
"y":{"field":"mag","type":"quantitative","scale":{"domain":[-19,-10],"reverse":true,"nice":false,"zero":false},"axis":{"orient":"left","offset":-21,"values":[-18,-16,-14,-12,-10],"tickSize":-9,"labelPadding":16,"labelFontSize":17,"title":"Absolute Magnitude","titleFontSize":18,"titleAngle":-90,"titleX":-66.2,"titleY":148.5,"titleBaseline":"middle","titleAlign":"center"}},
"color":{"field":"band","type":"nominal","scale":{"domain":["U","V"],"range":["black","red"]},"legend":null},
"strokeDash":{"field":"model","type":"nominal","scale":{"domain":["m15mlt3","m15mlt1"],"range":[[1,0],[1.5,3.5]]},"legend":null}}},
{"data":{"values":[{}]},"mark":{"type":"rect","fillOpacity":0,"stroke":"black","strokeWidth":1.5},
"encoding":{
"x":{"datum":0,"type":"quantitative","axis":{"orient":"top","values":[0,50,100,150,200],"tickSize":-9,"labels":false,"title":null}},
"x2":{"datum":200},
"y":{"datum":-19,"type":"quantitative","axis":{"orient":"right","values":[-18,-16,-14,-12,-10],"tickSize":-9,"labels":false,"title":null,"minExtent":0}},
"y2":{"datum":-10}}},
{"data":{"values":[{}]},"mark":{"type":"rect","fillOpacity":0,"stroke":"#555","strokeWidth":2},
"encoding":{
"x":{"datum":4.8,"type":"quantitative","axis":{"orient":"bottom","values":[10,20,30,40,60,70,80,90,110,120,130,140,160,170,180,190],"tickSize":-4.5,"labels":false,"title":null}},
"x2":{"datum":87.6},
"y":{"datum":-11.91,"type":"quantitative","axis":{"orient":"left","offset":-21,"values":[-18.5,-17.5,-17,-16.5,-15.5,-15,-14.5,-13.5,-13,-12.5,-11.5,-11,-10.5],"tickSize":-4.5,"labels":false,"title":null}},
"y2":{"datum":-10.55}}},
{"data":{"values":[{}]},"mark":{"type":"rule","stroke":"#333","strokeWidth":2},
"encoding":{
"x":{"datum":12.2,"type":"quantitative","axis":{"orient":"top","values":[10,20,30,40,60,70,80,90,110,120,130,140,160,170,180,190],"tickSize":-4.5,"labels":false,"title":null}},
"x2":{"datum":41.4},
"y":{"datum":-11.49,"type":"quantitative","axis":{"orient":"right","values":[-18.5,-17.5,-17,-16.5,-15.5,-15,-14.5,-13.5,-13,-12.5,-11.5,-11,-10.5],"tickSize":-4.5,"labels":false,"title":null,"minExtent":0}}}},
{"data":{"values":[{}]},"mark":{"type":"rule","stroke":"#333","strokeWidth":2,"strokeDash":[1.5,3.5]},
"encoding":{"x":{"datum":12.2,"type":"quantitative","axis":null},"x2":{"datum":41.4},"y":{"datum":-11.0,"type":"quantitative","axis":null}}},
{"data":{"values":[{}]},"mark":{"type":"text","text":"m15mlt3","align":"left","baseline":"middle","font":"DejaVu Serif","fontSize":16.5,"color":"black"},
"encoding":{"x":{"datum":46.2,"type":"quantitative","axis":null},"y":{"datum":-11.56,"type":"quantitative","axis":null}}},
{"data":{"values":[{}]},"mark":{"type":"text","text":"m15mlt1","align":"left","baseline":"middle","font":"DejaVu Serif","fontSize":16.5,"color":"black"},
"encoding":{"x":{"datum":46.2,"type":"quantitative","axis":null},"y":{"datum":-10.97,"type":"quantitative","axis":null}}},
{"data":{"values":[{}]},"mark":{"type":"text","text":"U","align":"center","baseline":"middle","font":"DejaVu Serif","fontSize":17,"color":"black"},
"encoding":{"x":{"datum":177.3,"type":"quantitative","axis":null},"y":{"datum":-18.45,"type":"quantitative","axis":null}}},
{"data":{"values":[{}]},"mark":{"type":"text","text":"V","align":"center","baseline":"middle","font":"DejaVu Serif","fontSize":17,"color":"red"},
"encoding":{"x":{"datum":185.8,"type":"quantitative","axis":null},"y":{"datum":-18.45,"type":"quantitative","axis":null}}}
],
"resolve":{"axis":{"x":"independent","y":"independent"}}
},
{"width":484,"height":678,"view":{"stroke":"black","strokeWidth":1.5},
"layer":[
{"data":{"name":"spec"},"mark":{"type":"line","strokeWidth":1.1},
"encoding":{
"x":{"field":"w","type":"quantitative","scale":{"domain":[3500,12500],"nice":false,"zero":false},"axis":{"orient":"bottom","values":[4000,6000,8000,10000,12000],"format":"d","tickSize":-6,"labelPadding":20,"labelFontSize":16.5,"title":"Wavelength  [Å]","titleFontSize":16,"titleX":242,"titleY":41.7,"titleBaseline":"middle","titleAlign":"center"}},
"y":{"field":"f","type":"quantitative","scale":{"domain":[0,6.75],"nice":false,"zero":false},"axis":{"orient":"left","values":[1,2,3,4,5,6],"tickSize":-6,"labelPadding":13,"labelFontSize":16.5,"title":"Scaled Flux + const.","titleFontSize":22,"titleAngle":-90,"titleX":-33.5,"titleY":329,"titleBaseline":"middle","titleAlign":"center"}},
"color":{"field":"m","type":"nominal","scale":{"domain":[1,3],"range":["black","red"]},"legend":null},
"detail":{"field":"d","type":"nominal"}}},
{"data":{"name":"labels"},"mark":{"type":"text","align":"right","baseline":"middle","font":"Liberation Sans","fontSize":14,"color":"black"},
"encoding":{
"x":{"field":"w","type":"quantitative","axis":{"orient":"top","values":[4000,6000,8000,10000,12000],"tickSize":-6,"labels":false,"title":null}},
"y":{"field":"f","type":"quantitative","axis":{"orient":"right","values":[1,2,3,4,5,6],"tickSize":-6,"labels":false,"title":null,"minExtent":0}},
"text":{"field":"lab"}}},
{"data":{"values":[{}]},"mark":{"type":"text","text":"m15mlt1","align":"right","baseline":"alphabetic","font":"DejaVu Serif","fontSize":34,"color":"#333333"},
"encoding":{
"x":{"datum":12147,"type":"quantitative","axis":{"orient":"bottom","values":[4500,5000,5500,6500,7000,7500,8500,9000,9500,10500,11000,11500],"tickSize":-3,"labels":false,"title":null}},
"y":{"datum":6.40,"type":"quantitative","axis":{"orient":"left","values":[0.1,0.2,0.3,0.4,0.5,0.6,0.7,0.8,0.9,1.1,1.2,1.3,1.4,1.5,1.6,1.7,1.8,1.9,2.1,2.2,2.3,2.4,2.5,2.6,2.7,2.8,2.9,3.1,3.2,3.3,3.4,3.5,3.6,3.7,3.8,3.9,4.1,4.2,4.3,4.4,4.5,4.6,4.7,4.8,4.9,5.1,5.2,5.3,5.4,5.5,5.6,5.7,5.8,5.9,6.1,6.2,6.3,6.4,6.5,6.6,6.7],"tickSize":-3,"labels":false,"title":null}}}},
{"data":{"values":[{}]},"mark":{"type":"text","text":"m15mlt3","align":"right","baseline":"alphabetic","font":"DejaVu Serif","fontSize":34,"color":"red"},
"encoding":{
"x":{"datum":12147,"type":"quantitative","axis":{"orient":"top","values":[4500,5000,5500,6500,7000,7500,8500,9000,9500,10500,11000,11500],"tickSize":-3,"labels":false,"title":null}},
"y":{"datum":5.99,"type":"quantitative","axis":{"orient":"right","values":[0.1,0.2,0.3,0.4,0.5,0.6,0.7,0.8,0.9,1.1,1.2,1.3,1.4,1.5,1.6,1.7,1.8,1.9,2.1,2.2,2.3,2.4,2.5,2.6,2.7,2.8,2.9,3.1,3.2,3.3,3.4,3.5,3.6,3.7,3.8,3.9,4.1,4.2,4.3,4.4,4.5,4.6,4.7,4.8,4.9,5.1,5.2,5.3,5.4,5.5,5.6,5.7,5.8,5.9,6.1,6.2,6.3,6.4,6.5,6.6,6.7],"tickSize":-3,"labels":false,"title":null,"minExtent":0}}}}
],
"resolve":{"axis":{"x":"independent","y":"independent"}}
}
]
}
